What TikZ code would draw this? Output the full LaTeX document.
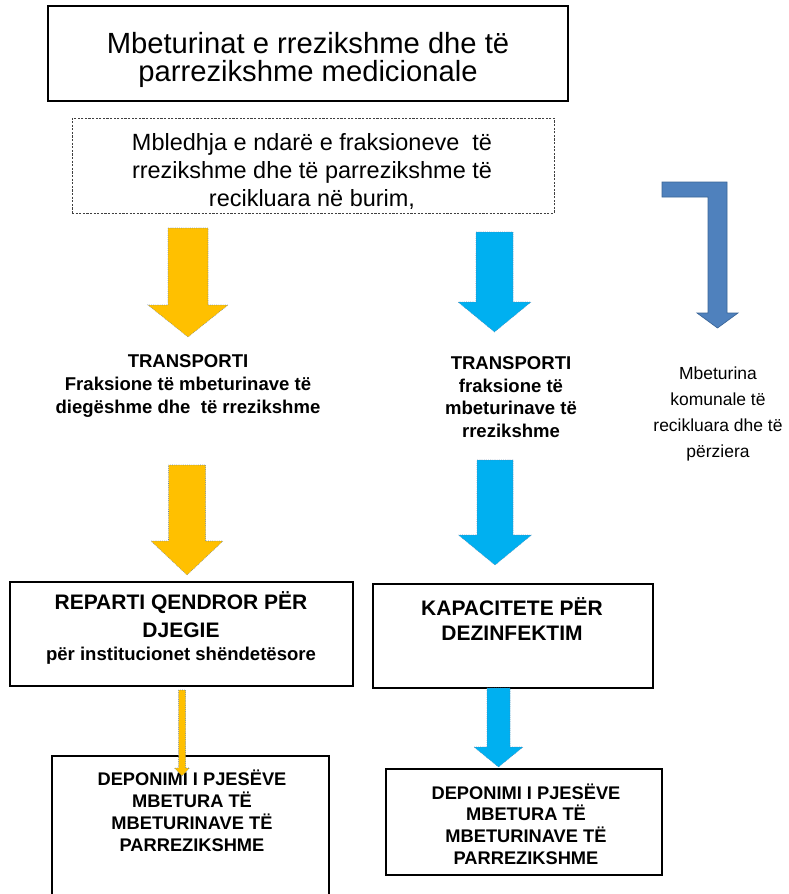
\documentclass[tikz,border=0pt]{standalone}
\usepackage{fontspec}
\setmainfont{Liberation Sans}
\definecolor{yelA}{HTML}{FFC000}
\definecolor{bluA}{HTML}{00B0F0}
\definecolor{steelA}{HTML}{4F81BD}
\definecolor{steelE}{HTML}{3A6598}
\definecolor{dotE}{HTML}{5F7FA6}
\newcommand\fsz[2]{\fontsize{#1}{#2}\selectfont}
% block arrow: #1 style, #2 cx, #3 top, #4 head top, #5 tip, #6 half shaft, #7 half head
\newcommand\blkarrow[7]{%
  \draw[#1] ({#2-#6},#3) -- ({#2+#6},#3) -- ({#2+#6},#4) -- ({#2+#7},#4)
    -- (#2,#5) -- ({#2-#7},#4) -- ({#2-#6},#4) -- cycle;}
\begin{document}
\begin{tikzpicture}[x=0.75pt,y=-0.75pt,
  box/.style={draw=black, line width=1.4pt, rectangle, inner sep=0pt},
  dbox/.style={draw=black!75, line width=0.6pt, dash pattern=on 1.6pt off 1.1pt, rectangle, inner sep=0pt},
  txt/.style={align=center, inner sep=0pt, text=black},
  yarrow/.style={fill=yelA, draw=dotE, line width=0.4pt, densely dotted},
  barrow/.style={fill=bluA, draw=dotE, line width=0.4pt, densely dotted},
  sarrow/.style={fill=steelA, draw=steelE, line width=0.5pt}]
\useasboundingbox (0,0) rectangle (789,894);
\fill[white] (0,0) rectangle (789,894);

% boxes
\node[box, line width=1.9pt, minimum width=390pt, minimum height=71.25pt] (title) at (308,53.5) {};
\node[dbox, minimum width=361.5pt, minimum height=71.25pt] (collect) at (313,165.5) {};
\node[box, minimum width=257.25pt, minimum height=78pt] (burn) at (181.5,634) {};
\node[box, minimum width=210pt, minimum height=78pt] (disinf) at (513,636) {};
\node[box, minimum width=207pt, minimum height=79.5pt] (depR) at (524,822) {};
\node[box, minimum width=207.75pt, minimum height=108pt] (depL) at (190.5,828) {};

% texts
\node[txt, font=\fsz{21.9pt}{20.5pt}] (titleT) at (308,60)
  {Mbeturinat e rrezikshme dhe të\\parrezikshme medicionale};
\node[txt, font=\fsz{17.6pt}{21pt}] (collectT) at (312,171)
  {Mbledhja e ndarë e fraksioneve\ \ të\\rrezikshme dhe të parrezikshme të\\recikluara në burim,};
\node[txt, font=\bfseries\fsz{13.9pt}{16.9pt}] (transL) at (188,386)
  {TRANSPORTI\\Fraksione të mbeturinave të\\diegëshme dhe\ \ të rrezikshme};
\node[txt, font=\bfseries\fsz{13.9pt}{16.9pt}] (transR) at (511,397)
  {TRANSPORTI\\fraksione të\\mbeturinave të\\rrezikshme};
\node[txt, font=\fsz{13.1pt}{19.5pt}] (komunal) at (718,414)
  {Mbeturina\\komunale të\\recikluara dhe të\\përziera};
\node[txt, font=\bfseries\fsz{15.75pt}{20.3pt}] (burnT) at (181,628)
  {REPARTI QENDROR PËR\\DJEGIE\\[-3pt]{\fsz{13.9pt}{16.9pt}për institucionet shëndetësore}};
\node[txt, font=\bfseries\fsz{15.75pt}{19pt}] (disinfT) at (512,619)
  {KAPACITETE PËR\\DEZINFEKTIM};
\node[txt, font=\bfseries\fsz{13.7pt}{16.3pt}] (depRT) at (526,824)
  {DEPONIMI I PJESËVE\\MBETURA TË\\MBETURINAVE TË\\PARREZIKSHME};
\node[txt, font=\bfseries\fsz{13.7pt}{16.5pt}] (depLT) at (192,811)
  {DEPONIMI I PJESËVE\\MBETURA TË\\MBETURINAVE TË\\PARREZIKSHME};

% block arrows
\blkarrow{yarrow}{188}{228}{305}{337}{20}{40}
\blkarrow{barrow}{494.5}{232}{302}{332}{18.5}{36.5}
\blkarrow{yarrow}{187}{465}{541}{575}{18.5}{36}
\blkarrow{barrow}{495}{460}{535}{565}{18}{36.5}
\blkarrow{barrow}{498.5}{688}{747}{767}{11.5}{24.5}
\blkarrow{yarrow}{182}{690}{768}{776}{3.5}{7.5}

% bent arrow
\draw[sarrow] (662,182) -- (727,182) -- (727,313) -- (738,313) -- (717.5,328)
  -- (697,313) -- (708,313) -- (708,197) -- (662,197) -- cycle;
\end{tikzpicture}
\end{document}
